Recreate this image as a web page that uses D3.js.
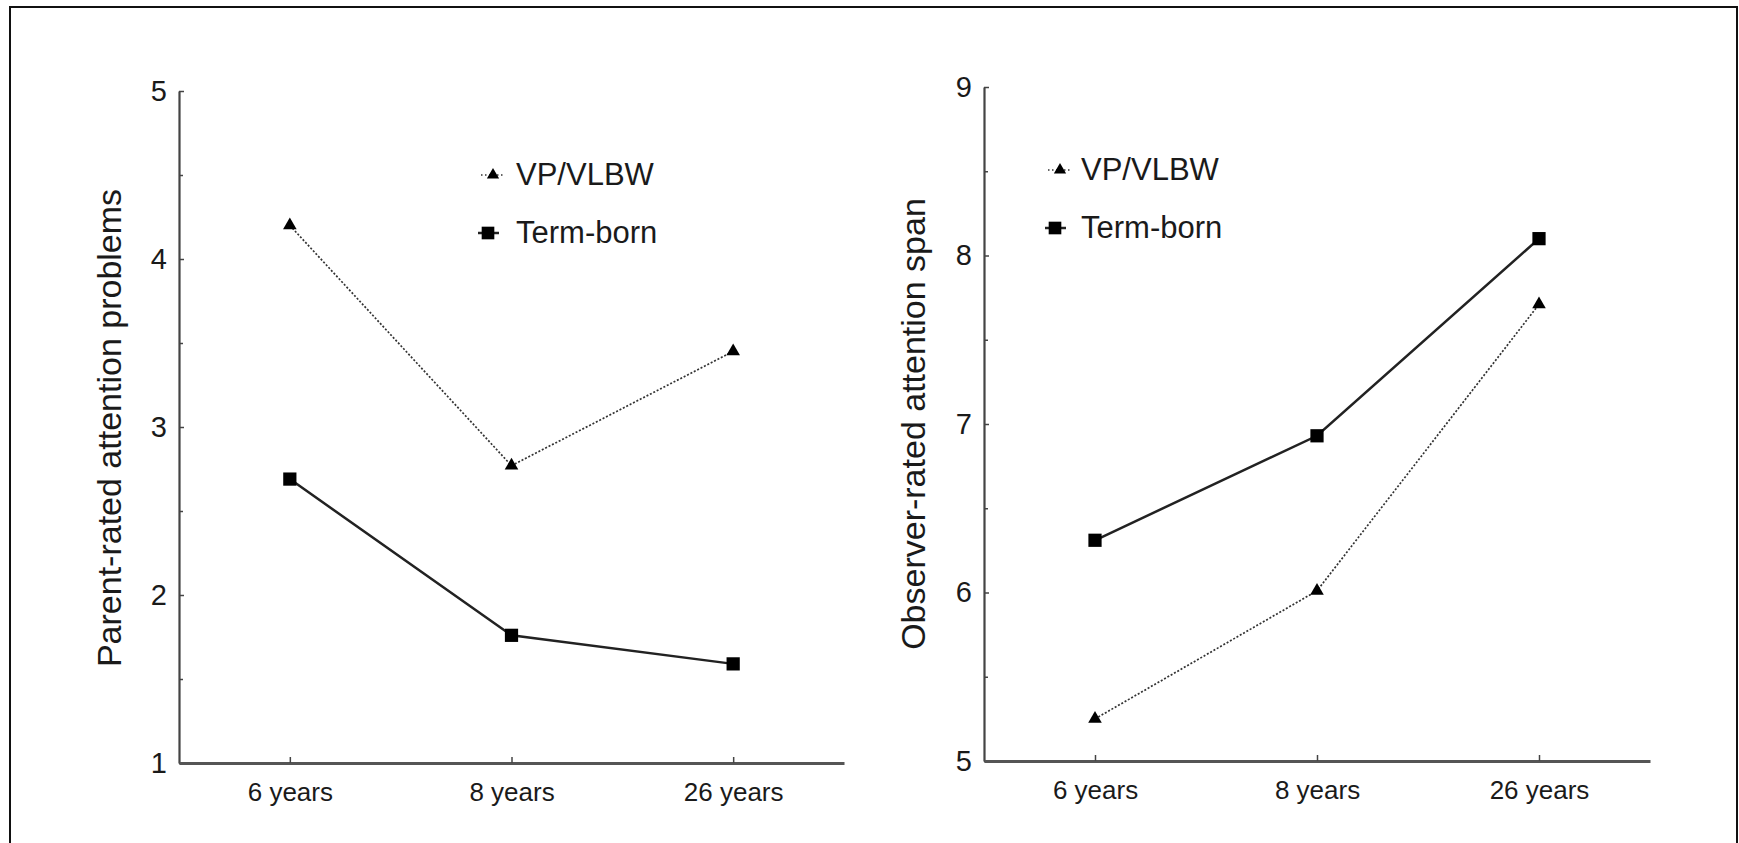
<!DOCTYPE html>
<html>
<head>
<meta charset="utf-8">
<script src="https://cdn.jsdelivr.net/npm/d3@7"></script>
<style>
  body { margin: 0; background: #fff; }
  svg text { font-family: "Liberation Sans", Arial, sans-serif; fill: #1a1a1a; }
</style>
</head>
<body>
<svg id="chart" width="1739" height="843"></svg>
<script>
// Data
const ages = ["6 years", "8 years", "26 years"];
const parentVP = [4.2, 2.77, 3.45];
const parentTerm = [2.69, 1.76, 1.59];
const observerVP = [5.25, 6.01, 7.71];
const observerTerm = [6.31, 6.93, 8.1];
const parentTicks = [1, 2, 3, 4, 5];
const observerTicks = [5, 6, 7, 8, 9];
const seriesNames = ["VP/VLBW", "Term-born"];

const svg = d3.select('#chart');

// outer frame (open at the bottom, like the scan)
svg.append('path')
    .attr('d', 'M10,843 L10,7 L1737,7 L1737,843')
    .attr('fill', 'none')
    .attr('stroke', '#111')
    .attr('stroke-width', 2);

// one panel = one small line chart
function drawPanel(cfg){
    const g = svg.append('g');

    const xScale = d3.scalePoint()
        .domain(ages)
        .range([cfg.x0, cfg.x1])
        .padding(0.5);
    const yScale = d3.scaleLinear()
        .domain(cfg.domain)
        .range([cfg.yBottom, cfg.yTop]);

    // minor (half) ticks
    const halves = d3.range(cfg.domain[0] + 0.5, cfg.domain[1], 1);
    g.append('g')
        .attr('transform', `translate(${cfg.x0},0)`)
        .call(d3.axisLeft(yScale).tickValues(halves).tickSizeInner(-4).tickSizeOuter(0).tickFormat(''))
        .call(a => a.select('.domain').remove())
        .selectAll('line').attr('stroke', '#444').attr('stroke-width', 1.5);

    // y axis
    const yAxis = g.append('g')
        .attr('transform', `translate(${cfg.x0},0)`)
        .call(d3.axisLeft(yScale).tickValues(cfg.ticks).tickFormat(d3.format('d'))
            .tickSizeInner(-5).tickSizeOuter(0).tickPadding(12));
    yAxis.select('.domain').attr('stroke', '#444').attr('stroke-width', 2.2);
    yAxis.selectAll('line').attr('stroke', '#444').attr('stroke-width', 1.5);
    yAxis.selectAll('text')
        .attr('font-size', 29)
        .attr('font-family', '"Liberation Sans", Arial, sans-serif')
        .attr('fill', '#1a1a1a');

    // x axis
    const xAxis = g.append('g')
        .attr('transform', `translate(0,${cfg.yBottom})`)
        .call(d3.axisBottom(xScale).tickSizeInner(-6).tickSizeOuter(0).tickPadding(20));
    xAxis.select('.domain').attr('stroke', '#555').attr('stroke-width', 3);
    xAxis.selectAll('line').attr('stroke', '#444').attr('stroke-width', 1.5);
    xAxis.selectAll('text')
        .attr('font-size', 26)
        .attr('font-family', '"Liberation Sans", Arial, sans-serif')
        .attr('fill', '#1a1a1a');

    // axis title
    g.append('text')
        .attr('transform', `translate(${cfg.titleX},${cfg.titleY}) rotate(-90)`)
        .attr('text-anchor', 'middle')
        .attr('font-size', 34)
        .text(cfg.title);

    const line = d3.line()
        .x((d, i) => xScale(ages[i]))
        .y(d => yScale(d));

    // VP/VLBW - dotted
    g.append('path')
        .attr('d', line(cfg.vp))
        .attr('fill', 'none')
        .attr('stroke', '#333')
        .attr('stroke-width', 1.7)
        .attr('stroke-dasharray', '2,1.8');
    // Term-born - solid
    g.append('path')
        .attr('d', line(cfg.term))
        .attr('fill', 'none')
        .attr('stroke', '#222')
        .attr('stroke-width', 2.5);

    const tri = d3.symbol().type(d3.symbolTriangle).size(80);
    const sq = d3.symbol().type(d3.symbolSquare).size(175);

    g.selectAll('.tri')
        .data(cfg.vp)
        .enter()
        .append('path')
        .attr('class', 'tri')
        .attr('d', tri)
        .attr('transform', (d, i) => `translate(${xScale(ages[i])},${yScale(d)})`)
        .attr('fill', '#000');
    g.selectAll('.sq')
        .data(cfg.term)
        .enter()
        .append('path')
        .attr('class', 'sq')
        .attr('d', sq)
        .attr('transform', (d, i) => `translate(${xScale(ages[i])},${yScale(d)})`)
        .attr('fill', '#000');

    // legend
    const lg = g.append('g');
    // VP/VLBW row
    lg.append('line')
        .attr('x1', cfg.legX - 12).attr('x2', cfg.legX + 11)
        .attr('y1', cfg.legY).attr('y2', cfg.legY)
        .attr('stroke', '#333').attr('stroke-width', 1.5).attr('stroke-dasharray', '1.5,2.5');
    lg.append('path')
        .attr('d', d3.symbol().type(d3.symbolTriangle).size(65))
        .attr('transform', `translate(${cfg.legX},${cfg.legY})`)
        .attr('fill', '#000');
    lg.append('text')
        .attr('x', cfg.textX)
        .attr('y', cfg.legY + 10)
        .attr('font-size', 31)
        .text(seriesNames[0]);
    // Term-born row
    lg.append('line')
        .attr('x1', cfg.legX - 15).attr('x2', cfg.legX + 6)
        .attr('y1', cfg.legY + 58).attr('y2', cfg.legY + 58)
        .attr('stroke', '#222').attr('stroke-width', 2.5);
    lg.append('path')
        .attr('d', d3.symbol().type(d3.symbolSquare).size(160))
        .attr('transform', `translate(${cfg.legX - 5},${cfg.legY + 58})`)
        .attr('fill', '#000');
    lg.append('text')
        .attr('x', cfg.textX)
        .attr('y', cfg.legY + 68)
        .attr('font-size', 31)
        .text(seriesNames[1]);
}

drawPanel({
    x0: 179, x1: 844, yTop: 91, yBottom: 763,
    domain: [1, 5], ticks: parentTicks,
    vp: parentVP, term: parentTerm,
    title: 'Parent-rated attention problems', titleX: 121, titleY: 428,
    legX: 493, legY: 175, textX: 516
});

drawPanel({
    x0: 984, x1: 1650, yTop: 87, yBottom: 761,
    domain: [5, 9], ticks: observerTicks,
    vp: observerVP, term: observerTerm,
    title: 'Observer-rated attention span', titleX: 925, titleY: 424,
    legX: 1060, legY: 170, textX: 1081
});
</script>
</body>
</html>
